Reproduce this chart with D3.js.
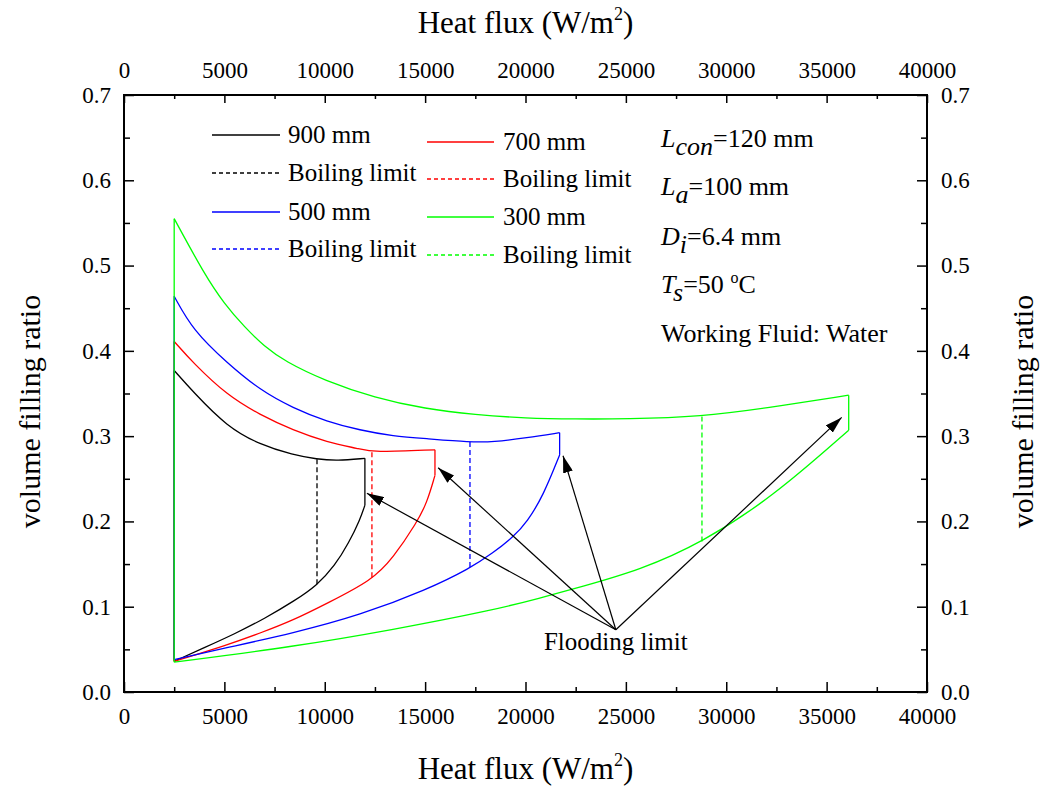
<!DOCTYPE html>
<html>
<head>
<meta charset="utf-8">
<script src="https://cdn.jsdelivr.net/npm/d3@7"></script>
<style>
  body { margin: 0; background: #fff; }
  text { font-family: "Liberation Serif", "Times New Roman", serif; fill: #000; }
</style>
</head>
<body>
<div id="chart"></div>
<script>
  // heat flux (W/m2) and volume filling ratio
  const q900Up = [2500, 3437, 5130, 6774, 8418, 9614, 10610, 12000];
  const f900Up = [0.377, 0.352, 0.311, 0.290, 0.278, 0.273, 0.271, 0.274];
  const q900Lo = [2500, 4000, 5500, 7000, 8500, 9614, 10500, 11200, 11755, 12000];
  const f900Lo = [0.036, 0.052, 0.068, 0.086, 0.107, 0.125, 0.148, 0.175, 0.202, 0.219];

  const q700Up = [2500, 3437, 5130, 6774, 8418, 10111, 11755, 12350, 15490];
  const f700Up = [0.411, 0.386, 0.348, 0.325, 0.307, 0.293, 0.285, 0.281, 0.284];
  const q700Lo = [2500, 5130, 6774, 8418, 10111, 12350, 13399, 14594, 15092, 15490];
  const f700Lo = [0.036, 0.055, 0.069, 0.084, 0.104, 0.131, 0.157, 0.199, 0.222, 0.254];

  const q500Up = [2500, 3437, 5130, 6774, 8418, 10111, 11755, 13399, 15092, 17234, 18380, 20073, 21700];
  const f500Up = [0.464, 0.424, 0.386, 0.354, 0.333, 0.317, 0.307, 0.300, 0.297, 0.293, 0.293, 0.298, 0.304];
  const q500Lo = [2500, 5130, 8418, 11755, 15092, 17234, 18380, 19400, 20073, 20900, 21700];
  const f500Lo = [0.038, 0.052, 0.069, 0.090, 0.120, 0.145, 0.163, 0.182, 0.199, 0.231, 0.278];

  const q300Up = [2500, 4000, 5000, 6000, 7000, 8000, 10000, 12500, 15000, 17500, 20000, 22500, 25000, 28790, 32000, 36100];
  const f300Up = [0.555, 0.490, 0.455, 0.428, 0.405, 0.388, 0.365, 0.345, 0.332, 0.325, 0.321, 0.320, 0.320, 0.323, 0.333, 0.348];
  const q300Lo = [2500, 8418, 13400, 18380, 20720, 22713, 25702, 28790, 32327, 36100];
  const f300Lo = [0.035, 0.053, 0.073, 0.096, 0.110, 0.123, 0.143, 0.175, 0.229, 0.307];

  const lengths = ["900 mm", "700 mm", "500 mm", "300 mm"];
  const colors = ["#000000", "#ff0000", "#0000ff", "#00ff00"];

  // boiling limit (dashed verticals)
  const boilQ = [9614, 12350, 17234, 28790];
  const boilTop = [0.273, 0.281, 0.293, 0.323];
  const boilBot = [0.125, 0.131, 0.145, 0.175];

  // flooding limit arrows
  const floodLabelQ = 24500, floodLabelF = 0.073;
  const arrowQ = [12100, 15650, 21870, 35750];
  const arrowF = [0.233, 0.263, 0.277, 0.322];

  const xTicks = [0, 5000, 10000, 15000, 20000, 25000, 30000, 35000, 40000];
  const xMinor = [2500, 7500, 12500, 17500, 22500, 27500, 32500, 37500];
  const yTicks = [0, 0.1, 0.2, 0.3, 0.4, 0.5, 0.6, 0.7];
  const yMinor = [0.05, 0.15, 0.25, 0.35, 0.45, 0.55, 0.65];

  const W = 1041, H = 787;
  const L = 124, R = 927, T = 95, B = 692;

  const svg = d3.select("#chart").append("svg")
    .attr("width", W)
    .attr("height", H);

  const x = d3.scaleLinear().domain([0, 40000]).range([L, R]);
  const y = d3.scaleLinear().domain([0, 0.7]).range([B, T]);

  const fmtX = d3.format("d");
  const fmtY = d3.format(".1f");

  function axisGroup(axis, tx, ty) {
    const g = svg.append("g").attr("transform", `translate(${tx},${ty})`).call(axis);
    g.select(".domain").remove();
    g.selectAll("line").style("stroke", "#000").style("stroke-width", "1.5px");
    g.selectAll("text").style("font-size", "23px").style("font-family", '"Liberation Serif", serif');
    return g;
  }

  // major ticks with labels, minor ticks without; all pointing inward
  axisGroup(d3.axisBottom(x).tickValues(xTicks).tickFormat(fmtX).tickSize(-10).tickSizeOuter(0).tickPadding(16), 0, B);
  axisGroup(d3.axisBottom(x).tickValues(xMinor).tickFormat("").tickSize(-5).tickSizeOuter(0), 0, B);
  axisGroup(d3.axisTop(x).tickValues(xTicks).tickFormat(fmtX).tickSize(-8).tickSizeOuter(0).tickPadding(17), 0, T);
  axisGroup(d3.axisTop(x).tickValues(xMinor).tickFormat("").tickSize(-4).tickSizeOuter(0), 0, T);
  axisGroup(d3.axisLeft(y).tickValues(yTicks).tickFormat(fmtY).tickSize(-10).tickSizeOuter(0).tickPadding(13), L, 0);
  axisGroup(d3.axisLeft(y).tickValues(yMinor).tickFormat("").tickSize(-6).tickSizeOuter(0), L, 0);
  axisGroup(d3.axisRight(y).tickValues(yTicks).tickFormat(fmtY).tickSize(-10).tickSizeOuter(0).tickPadding(14), R, 0);
  axisGroup(d3.axisRight(y).tickValues(yMinor).tickFormat("").tickSize(-6).tickSizeOuter(0), R, 0);

  svg.append("rect")
    .attr("x", L).attr("y", T)
    .attr("width", R - L).attr("height", B - T)
    .attr("fill", "none")
    .style("stroke", "#000")
    .style("stroke-width", "2px");

  // axis titles
  function heatTitle(yy) {
    const t = svg.append("text")
      .attr("x", (L + R) / 2).attr("y", yy)
      .attr("text-anchor", "middle")
      .style("font-size", "31px");
    t.append("tspan").text("Heat flux (W/m");
    t.append("tspan").attr("dy", -13).style("font-size", "18px").text("2");
    t.append("tspan").attr("dy", 13).text(")");
  }
  heatTitle(779);
  heatTitle(33);

  [29, 1022].forEach(cx => {
    svg.append("text")
      .attr("transform", `translate(${cx},${(T + B) / 2 + 18}) rotate(-90)`)
      .attr("text-anchor", "middle")
      .attr("dy", "0.35em")
      .style("font-size", "30px")
      .text("volume filling ratio");
  });

  // curves
  const plot = svg.append("g");
  const line = d3.line().x(d => x(d[0])).y(d => y(d[1])).curve(d3.curveBasis);
  const seg = d3.line().x(d => x(d[0])).y(d => y(d[1]));

  const series = [
    [q900Up, f900Up, q900Lo, f900Lo],
    [q700Up, f700Up, q700Lo, f700Lo],
    [q500Up, f500Up, q500Lo, f500Lo],
    [q300Up, f300Up, q300Lo, f300Lo]
  ];

  series.forEach((s, i) => {
    const up = s[0].map((q, j) => [q, s[1][j]]);
    const lo = s[2].map((q, j) => [q, s[3][j]]);
    [line(up), line(lo), seg([up[up.length - 1], lo[lo.length - 1]]), seg([up[0], lo[0]])]
      .forEach(p => {
        plot.append("path").attr("d", p)
          .style("fill", "none")
          .style("stroke", colors[i])
          .style("stroke-width", 1.3);
      });
    plot.append("path")
      .attr("d", seg([[boilQ[i], boilTop[i]], [boilQ[i], boilBot[i]]]))
      .style("fill", "none")
      .style("stroke", colors[i])
      .style("stroke-width", 1.3)
      .style("stroke-dasharray", "5,3");
  });

  // flooding limit arrows
  svg.append("defs").append("marker")
    .attr("id", "head")
    .attr("viewBox", "0 0 17 10")
    .attr("refX", 17).attr("refY", 5)
    .attr("markerWidth", 17).attr("markerHeight", 10)
    .attr("markerUnits", "userSpaceOnUse")
    .attr("orient", "auto")
    .append("path").attr("d", "M0,0L17,5L0,10Z").attr("fill", "#000");

  arrowQ.forEach((q, i) => {
    svg.append("line")
      .attr("x1", x(floodLabelQ)).attr("y1", y(floodLabelF))
      .attr("x2", x(q)).attr("y2", y(arrowF[i]))
      .style("stroke", "#000")
      .style("stroke-width", 1.2)
      .attr("marker-end", "url(#head)");
  });

  svg.append("text")
    .attr("x", x(floodLabelQ)).attr("y", y(floodLabelF) + 20)
    .attr("text-anchor", "middle")
    .style("font-size", "25px")
    .text("Flooding limit");

  // legend
  const legCols = [[212, 280, 288], [427, 494, 503]];
  const legRows = [[135, 173, 212, 249], [142, 179, 217, 255]];
  lengths.forEach((name, i) => {
    const c = legCols[i % 2];
    const rows = legRows[i % 2];
    const r0 = rows[Math.floor(i / 2) * 2];
    const r1 = rows[Math.floor(i / 2) * 2 + 1];
    svg.append("line").attr("x1", c[0]).attr("x2", c[1]).attr("y1", r0).attr("y2", r0)
      .style("stroke", colors[i]).style("stroke-width", 1.3);
    svg.append("text").attr("x", c[2]).attr("y", r0 + 8).style("font-size", "25px").text(name);
    svg.append("line").attr("x1", c[0]).attr("x2", c[1]).attr("y1", r1).attr("y2", r1)
      .style("stroke", colors[i]).style("stroke-width", 1.3).style("stroke-dasharray", "4,3");
    svg.append("text").attr("x", c[2]).attr("y", r1 + 8).style("font-size", "25px").text("Boiling limit");
  });

  // parameter notes
  const notes = [
    ["L", "con", "=120 mm"],
    ["L", "a", "=100 mm"],
    ["D", "i", "=6.4 mm"],
    ["T", "s", "=50 "],
  ];
  const noteY = [147, 195, 245, 293];
  notes.forEach((n, i) => {
    const t = svg.append("text").attr("x", 661).attr("y", noteY[i]).style("font-size", "26px");
    t.append("tspan").style("font-style", "italic").text(n[0]);
    t.append("tspan").style("font-style", "italic").attr("dy", 8).text(n[1]);
    t.append("tspan").attr("dy", -8).text(n[2]);
    if (i === 3) {
      t.append("tspan").attr("dy", -10).style("font-size", "16px").text("o");
      t.append("tspan").attr("dy", 10).text("C");
    }
  });
  svg.append("text").attr("x", 661).attr("y", 342).style("font-size", "26px").text("Working Fluid: Water");
</script>
</body>
</html>
